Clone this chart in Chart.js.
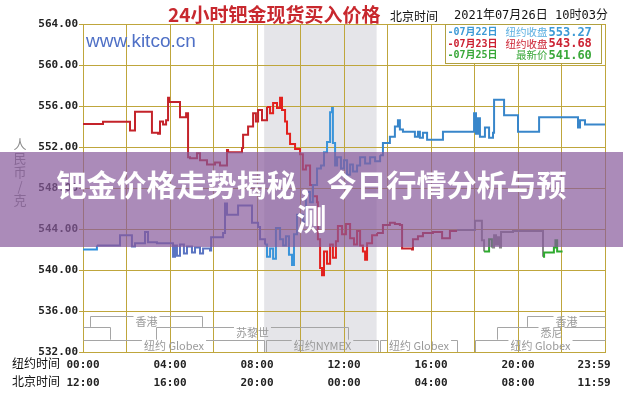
<!DOCTYPE html>
<html>
<head>
<meta charset="utf-8">
<script src="https://cdn.jsdelivr.net/npm/chart.js@4.4.0/dist/chart.umd.min.js"></script>
<style>
  html, body { margin: 0; padding: 0; background: #fff; }
  #wrap { position: relative; width: 623px; height: 400px; }
  #banner { position: absolute; left: 0; top: 152px; width: 623px; height: 95px;
    background: rgba(135, 90, 155, 0.7); display: flex; align-items: center; justify-content: center; }
  #banner div { width: 530px; text-align: center; color: #fff; font: bold 30px "Noto Sans CJK SC"; line-height: 34px; }
</style>
</head>
<body>
<div id="wrap">
  <canvas id="myChart" width="623" height="400"></canvas>
  <div id="banner"><div>钯金价格走势揭秘，今日行情分析与预测</div></div>
</div>
<script>
// tick labels (NY hours -> Beijing)
const nyTicks = [0, 4, 8, 12, 16, 20, 23.5];
const nyLabels = ['00:00', '04:00', '08:00', '12:00', '16:00', '20:00', '23:59'];
const bjLabels = ['12:00', '16:00', '20:00', '00:00', '04:00', '08:00', '11:59'];

// 07/22 (blue)
const day22Hours = [0, 0.64, 1.70, 2.25, 2.39, 2.85, 2.99, 3.40, 4.14, 4.23, 4.32, 4.46, 4.64, 4.78, 5.01, 5.15, 5.38, 5.52, 5.84, 5.89,
  6.44, 6.53, 6.62, 7.13, 7.77, 8.05, 8.14, 8.37, 8.46, 8.60, 8.74, 8.87, 9.06, 9.20, 9.33, 9.47, 9.61, 9.70, 9.84, 10.11,
  10.25, 10.44, 10.57, 10.76, 10.94, 11.08, 11.22, 11.36, 11.45, 11.49, 11.59, 11.68, 11.86, 12.00, 12.14, 12.28, 12.41, 12.60, 12.74, 12.97,
  13.20, 13.43, 13.66, 13.79, 14.11, 14.34, 14.48, 14.57, 14.71, 15.26, 15.40, 15.49, 15.63, 15.82, 16.55, 17.98, 18.07, 18.16, 18.25, 18.48,
  18.67, 18.85, 18.90, 19.36, 20.00, 20.97, 22.76, 22.85, 23.08, 24];
const day22Prices = [542.0, 542.4, 543.4, 542.3, 542.6, 543.7, 542.7, 542.6, 541.3, 542.4, 541.4, 542.5, 541.6, 542.3, 541.7, 542.2, 541.6, 542.1, 541.9, 543.2,
  543.6, 546.5, 545.4, 546.3, 544.6, 544.2, 543.0, 542.5, 541.3, 542.1, 541.1, 544.1, 543.0, 542.4, 543.3, 541.5, 540.5, 543.5, 545.4, 544.7,
  547.6, 546.6, 548.3, 549.9, 550.2, 551.5, 552.5, 555.4, 555.8, 552.4, 550.2, 551.0, 549.9, 550.7, 549.3, 550.3, 549.6, 550.2, 551.0, 550.4,
  551.0, 550.6, 551.2, 552.4, 553.0, 554.0, 554.6, 553.7, 553.5, 553.0, 553.5, 552.9, 553.4, 552.7, 553.5, 555.3, 553.3, 554.8, 553.0, 553.9,
  552.9, 553.4, 556.6, 555.1, 553.5, 554.9, 553.9, 554.6, 554.2, 554.2];

// 07/23 (red)
const day23Hours = [0, 0.92, 2.16, 2.39, 3.17, 3.45, 3.54, 3.68, 3.82, 3.91, 3.96, 4.46, 4.74, 4.83, 4.92, 5.24, 5.38, 5.70, 6.07, 6.30,
  6.62, 6.67, 7.31, 7.36, 7.59, 7.82, 7.95, 8.05, 8.23, 8.46, 8.60, 8.74, 8.92, 9.06, 9.15, 9.29, 9.38, 9.52, 9.75, 9.98,
  10.11, 10.25, 10.44, 10.57, 10.76, 10.80, 10.90, 10.99, 11.08, 11.22, 11.36, 11.49, 11.63, 11.72, 11.91, 12.09, 12.28, 12.46, 12.60, 12.74,
  12.87, 12.97, 13.06, 13.29, 13.52, 13.79, 14.11, 14.34, 14.57, 14.67, 15.13, 15.17, 15.40, 15.63, 16.09, 16.51, 16.87, 17.20];
const day23Prices = [554.24, 554.47, 553.6, 555.45, 553.4, 553.3, 554.5, 554.2, 554.6, 556.8, 556.4, 554.9, 555.3, 551.0, 550.9, 551.4, 550.7, 550.3, 550.5, 550.2,
  551.7, 551.5, 551.9, 553.2, 554.0, 555.3, 554.5, 555.6, 554.6, 555.9, 555.3, 556.3, 555.8, 556.8, 555.6, 554.5, 553.3, 552.3, 551.8, 551.3,
  549.8, 550.2, 548.3, 547.2, 546.6, 543.0, 540.2, 539.5, 541.8, 540.6, 542.5, 541.2, 542.8, 544.3, 543.5, 544.5, 543.1, 542.5, 543.8, 542.4,
  541.8, 541.0, 542.6, 543.4, 543.6, 544.4, 544.6, 544.5, 544.4, 542.1, 542.0, 543.0, 543.3, 543.6, 543.7, 543.1, 543.8, 543.8];

// 07/25 (latest)
const day25Hours = [17.20, 18.02, 18.34, 18.44, 18.67, 18.80, 18.90, 18.99, 19.08, 19.17, 19.22, 19.77, 21.15, 21.20, 21.65, 21.72, 21.80, 22.05];
const day25Prices = [543.9, 544.8, 542.9, 541.8, 543.0, 542.2, 543.4, 542.5, 543.2, 542.2, 543.7, 543.8, 541.3, 541.7, 542.2, 542.9, 541.8, 541.8];

// legend
const legendDates = ['-07月22日', '-07月23日', '-07月25日'];
const legendNames = ['纽约收盘', '纽约收盘', '最新价'];
const legendPrices = [553.27, 543.68, 541.60];

// market sessions (NY hours), row 0 = top
const sessionNames = ['香港', '香港', '', '苏黎世', '悉尼', '纽约 Globex', '纽约NYMEX', '纽约 Globex', '纽约 Globex'];
const sessionStart = [0.3, 20.4, 0, 3.36, 19.03, 0, 8.4, 13.65, 18.0];
const sessionEnd = [5.47, 24, 1.25, 12.2, 24, 8.3, 13.55, 17.2, 24];
const sessionRow = [0, 0, 1, 1, 1, 2, 2, 2, 2];
const rowLevels = [535.5, 534.45, 533.2, 532];

const nymexFrom = 8.33, nymexTo = 13.5;
const greenFrom = [18.4, 21.1], greenTo = [18.7, 22.1];

const GRID = '#bfa63c';
const MONO = '"DejaVu Sans Mono", "Noto Sans CJK SC"';

const pts = (hs, vs) => hs.map((h, i) => ({ x: h, y: vs[i] }));

function blueColor(t) {
  if (t < 0.64) return '#2f8fdc';
  if (t < nymexFrom) return '#5a74c2';
  if (t < nymexTo) return '#3a94da';
  return '#3886ca';
}
function redColor(t) {
  if (t >= nymexFrom && t < nymexTo) return '#e2211e';
  return '#c4232a';
}
function todayColor(t) {
  for (let i = 0; i < greenFrom.length; i++) {
    if (t >= greenFrom[i] && t < greenTo[i]) return '#2eaa2e';
  }
  return '#8a8a8a';
}

const decor = {
  id: 'decor',
  beforeDraw(chart) {
    const { ctx, chartArea: a, scales: { x } } = chart;
    ctx.save();
    ctx.fillStyle = '#e5e5e9';
    const x0 = x.getPixelForValue(nymexFrom), x1 = x.getPixelForValue(nymexTo);
    ctx.fillRect(x0, a.top, x1 - x0, a.bottom - a.top);
    ctx.restore();
  },
  beforeDatasetsDraw(chart) {
    const { ctx, scales: { x, y } } = chart;
    ctx.save();
    ctx.strokeStyle = '#a5a5a5';
    ctx.lineWidth = 1;
    ctx.font = '11px "Noto Sans CJK SC"';
    ctx.fillStyle = '#999';
    ctx.textAlign = 'center';
    ctx.textBaseline = 'middle';
    sessionNames.forEach((name, i) => {
      const r = sessionRow[i];
      const x0 = Math.round(x.getPixelForValue(sessionStart[i])) + 0.5;
      const x1 = Math.round(x.getPixelForValue(sessionEnd[i])) + 0.5;
      const yl = Math.round(y.getPixelForValue(rowLevels[r])) + 0.5;
      const yd = y.getPixelForValue(rowLevels[r + 1]);
      const mid = (x0 + x1) / 2;
      const w = name ? ctx.measureText(name).width + 4 : 0;
      ctx.beginPath();
      ctx.moveTo(x0, yl); ctx.lineTo(mid - w / 2, yl);
      ctx.moveTo(mid + w / 2, yl); ctx.lineTo(x1, yl);
      if (sessionStart[i] > 0) { ctx.moveTo(x0, yl); ctx.lineTo(x0, yd); }
      if (sessionEnd[i] < 24) { ctx.moveTo(x1, yl); ctx.lineTo(x1, yd); }
      ctx.stroke();
      if (name) ctx.fillText(name, mid, yl + 5);
    });
    ctx.restore();
  },
  afterDatasetsDraw(chart) {
    const { ctx, chartArea: a } = chart;
    ctx.save();
    // watermark
    ctx.font = '19px "Liberation Sans"';
    ctx.fillStyle = '#4f70c6';
    ctx.textBaseline = 'middle';
    ctx.textAlign = 'left';
    ctx.fillText('www.kitco.cn', a.left + 3, 42);

    // legend box
    const bx = 445.5, by = a.top + 0.5, bw = 156, bh = 39;
    ctx.fillStyle = '#fff';
    ctx.fillRect(bx, by, bw, bh);
    ctx.strokeStyle = '#b0a040';
    ctx.strokeRect(bx, by, bw, bh);
    const colors = ['#3d9ad6', '#cc2233', '#3aa83a'];
    const nameColors = ['#5aaee0', '#cc2233', '#3aa83a'];
    legendDates.forEach((d, i) => {
      const ly = by + 8 + i * 11.5;
      ctx.fillStyle = colors[i];
      ctx.textAlign = 'left';
      ctx.font = 'bold 10px ' + MONO;
      ctx.fillText(d, bx + 2, ly);
      ctx.textAlign = 'right';
      ctx.fillStyle = nameColors[i];
      ctx.font = '10.5px "Noto Sans CJK SC"';
      ctx.fillText(legendNames[i], bx + 102, ly);
      ctx.textAlign = 'left';
      ctx.fillStyle = colors[i];
      ctx.font = 'bold 12px ' + MONO;
      ctx.fillText(legendPrices[i].toFixed(2), bx + 103, ly);
    });

    // title
    ctx.textAlign = 'left';
    ctx.fillStyle = '#c8282e';
    ctx.font = 'bold 19px "Noto Sans CJK SC"';
    ctx.fillText('24小时钯金现货买入价格', 168, 15);
    ctx.fillStyle = '#111';
    ctx.font = '12px "Noto Sans CJK SC"';
    ctx.fillText('北京时间', 390, 16);
    ctx.font = '12px ' + MONO;
    ctx.fillText('2021年07月26日 10时03分', 454, 16);

    // y axis title, stacked
    ctx.fillStyle = '#8a8a8a';
    ctx.font = '13px "Noto Sans CJK SC"';
    ctx.textAlign = 'center';
    ['人', '民', '币', '/', '克'].forEach((c, i) => ctx.fillText(c, 20, 144 + i * 14));

    // x axis row labels
    ctx.fillStyle = '#111';
    ctx.font = '12px "Noto Sans CJK SC"';
    ctx.textAlign = 'left';
    ctx.fillText('纽约时间', 12, a.bottom + 11);
    ctx.fillText('北京时间', 12, a.bottom + 29);
    ctx.restore();
  }
};

const data = {
  datasets: [
    {
      data: pts(day22Hours, day22Prices),
      borderColor: '#3886ca',
      segment: { borderColor: c => blueColor(c.p0.parsed.x) }
    },
    {
      data: pts(day23Hours, day23Prices),
      borderColor: '#c4232a',
      segment: { borderColor: c => redColor(c.p0.parsed.x) }
    },
    {
      data: pts(day25Hours, day25Prices),
      borderColor: '#8a8a8a',
      segment: { borderColor: c => todayColor(c.p0.parsed.x) }
    }
  ]
};

const config = {
  type: 'line',
  data,
  options: {
    responsive: false,
    animation: false,
    devicePixelRatio: 1,
    elements: {
      line: { borderWidth: 2, stepped: true, tension: 0 },
      point: { radius: 0 }
    },
    layout: { padding: { top: 24, right: 18, left: 0, bottom: 0 } },
    plugins: { legend: { display: false }, tooltip: { enabled: false } },
    scales: {
      x: {
        type: 'linear',
        min: 0,
        max: 24,
        afterBuildTicks: s => {
          const vals = [];
          for (let h = 0; h <= 24; h += 2) vals.push(h);
          vals.splice(12, 0, 23.5);
          s.ticks = vals.map(v => ({ value: v }));
        },
        afterFit: s => { s.height = 48; },
        grid: {
          color: c => (c.tick && c.tick.value % 2 === 0) ? GRID : 'rgba(0,0,0,0)',
          drawTicks: false
        },
        border: { color: GRID },
        ticks: {
          autoSkip: false,
          maxRotation: 0,
          padding: 4,
          color: '#222',
          font: { family: MONO, size: 11, weight: 'bold', lineHeight: 1.64 },
          callback: v => {
            const i = nyTicks.indexOf(v);
            return i >= 0 ? [nyLabels[i], bjLabels[i]] : '';
          }
        }
      },
      y: {
        min: 532,
        max: 564,
        afterFit: s => { s.width = 83; },
        grid: { color: GRID, tickLength: 4 },
        border: { color: GRID },
        ticks: {
          stepSize: 4,
          padding: 1,
          color: '#222',
          font: { family: MONO, size: 11, weight: 'bold' },
          callback: v => v.toFixed(2)
        }
      }
    }
  },
  plugins: [decor]
};

const myChart = new Chart(document.getElementById('myChart'), config);
</script>
</body>
</html>
